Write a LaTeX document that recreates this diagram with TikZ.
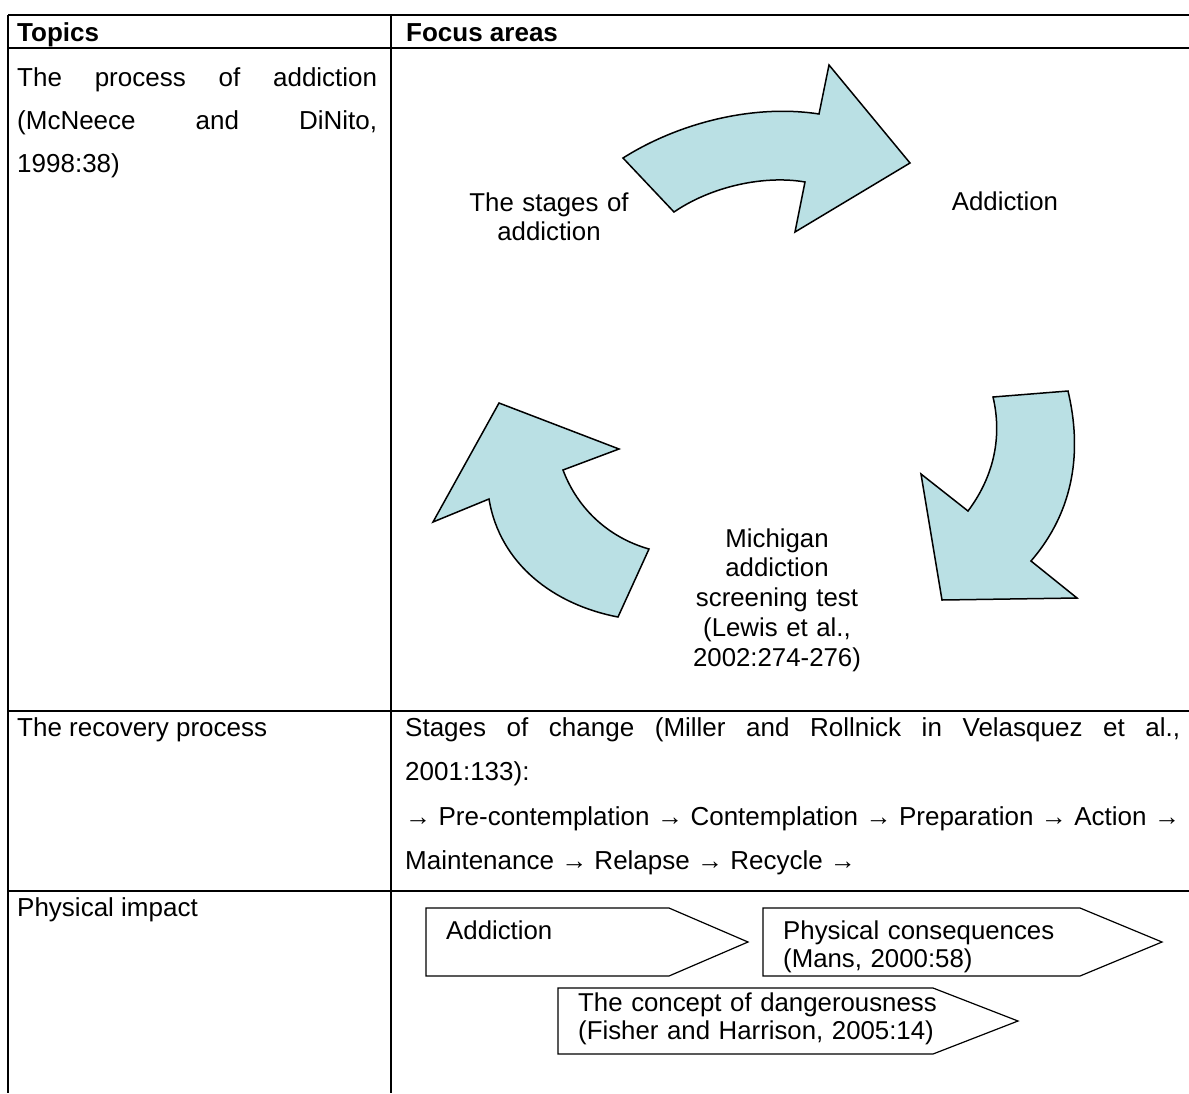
\documentclass[tikz,border=0pt]{standalone}
\usepackage{fontspec}
\setmainfont{Liberation Sans}
\definecolor{arrowfill}{RGB}{186,224,228}
\begin{document}
\begin{tikzpicture}[x=1pt,y=-1pt,
  tbl/.style={line width=2.3pt},
  cell/.style={anchor=base west, inner sep=0pt, font=\fontsize{26}{31}\selectfont},
  hdr/.style={cell, font=\fontsize{26}{31}\selectfont\bfseries},
  lbl/.style={anchor=base, inner sep=0pt, text width=300pt, align=center, font=\fontsize{25.8}{29.8}\selectfont},
  bigarrow/.style={draw=black, line width=1.5pt, fill=arrowfill, line join=miter},
  chev/.style={draw=black, line width=1.2pt, fill=white, line join=miter},
  chevtext/.style={anchor=base west, inner sep=0pt, text width=400pt, align=left, font=\fontsize{25.8}{28}\selectfont}
]
\useasboundingbox (0,0) rectangle (1189,1093);
\fill[white] (0,0) rectangle (1189,1093);

% table grid
\draw[tbl] (8,15) -- (1189,15);
\draw[tbl] (8,48) -- (1189,48);
\draw[tbl] (8,711) -- (1189,711);
\draw[tbl] (8,891) -- (1189,891);
\draw[tbl] (8,15) -- (8,1093);
\draw[tbl] (391,15) -- (391,1093);

% header
\node[hdr] (h1) at (17,41) {Topics};
\node[hdr] (h2) at (406,41) {Focus areas};

% row 1
\node[cell] (r1a) at (17,86) {\makebox[360pt][s]{The process of addiction}};
\node[cell] (r1b) at (17,129) {\makebox[360pt][s]{(McNeece and DiNito,}};
\node[cell] (r1c) at (17,172) {1998:38)};

% cycle diagram
\draw[bigarrow] (623,158) .. controls (680,122) and (755,104) .. (819,114) -- (829,65) -- (910,163) -- (795,232) -- (805,182) .. controls (765,175) and (712,186) .. (674,212) -- cycle;
\draw[bigarrow] (993,397) -- (1068,391) .. controls (1082,450) and (1075,510) .. (1031,561) -- (1077,598) -- (942,600) -- (921,474) -- (968,511) .. controls (995,475) and (1002,435) .. (993,397) -- cycle;
\draw[bigarrow] (499,403) -- (619,449) -- (563,470) .. controls (578,510) and (610,538) .. (649,549) -- (618,617) .. controls (555,605) and (500,565) .. (489,499) -- (433,522) -- cycle;

\node[lbl] (l1) at (549,211) {The stages of\\addiction};
\node[lbl] (l2) at (1005,210) {Addiction};
\node[lbl] (l3) at (777,547) {Michigan\\addiction\\screening test\\(Lewis et al.,\\2002:274-276)};

% row 2
\node[cell] (r2a) at (17,736) {The recovery process};
\node[cell] (r2b) at (405,736) {\makebox[775pt][s]{Stages of change (Miller and Rollnick in Velasquez et al.,}};
\node[cell] (r2c) at (405,780) {2001:133):};
\node[cell] (r2d) at (405,825) {\makebox[775pt][s]{→ Pre-contemplation → Contemplation → Preparation → Action →}};
\node[cell] (r2e) at (405,869) {Maintenance → Relapse → Recycle →};

% row 3
\node[cell] (r3a) at (17,916) {Physical impact};
\draw[chev] (426,908) -- (669,908) -- (748,942) -- (669,976) -- (426,976) -- cycle;
\draw[chev] (763,908) -- (1080,908) -- (1162,942) -- (1080,976) -- (763,976) -- cycle;
\draw[chev] (558,988) -- (933,988) -- (1018,1021) -- (933,1054) -- (558,1054) -- cycle;
\node[chevtext] (c1) at (446,939) {Addiction};
\node[chevtext] (c2) at (783,939) {Physical consequences\\(Mans, 2000:58)};
\node[chevtext] (c3) at (578,1011) {The concept of dangerousness\\(Fisher and Harrison, 2005:14)};
\end{tikzpicture}
\end{document}
